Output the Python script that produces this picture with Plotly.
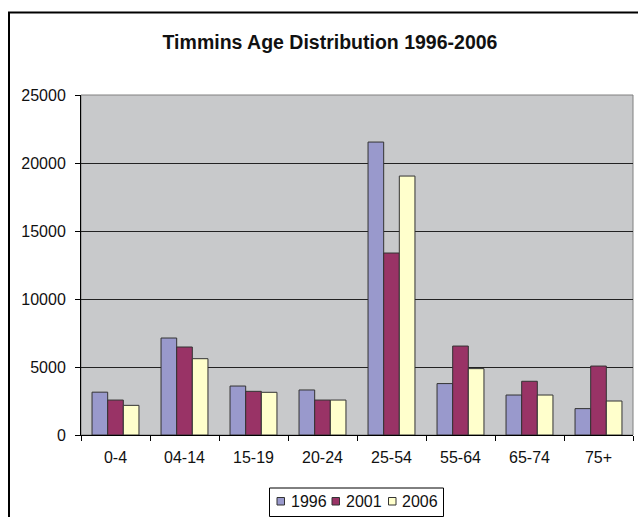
import plotly.graph_objects as go

age_groups = ["0-4", "04-14", "15-19", "20-24", "25-54", "55-64", "65-74", "75+"]
pop_1996 = [3150, 7130, 3600, 3310, 21540, 3780, 2940, 1940]
pop_2001 = [2570, 6470, 3210, 2570, 13380, 6540, 3950, 5070]
pop_2006 = [2180, 5610, 3140, 2570, 19040, 4880, 2940, 2500]

years = ["1996", "2001", "2006"]
colors = ["#9999cc", "#993366", "#ffffcc"]
values = [pop_1996, pop_2001, pop_2006]

FONT = "Liberation Sans, Arial, sans-serif"
W, H = 638, 517
ML, MR, MT, MB = 81, 5, 95, 82
PW, PH = W - ML - MR, H - MT - MB


def px_x(x):
    return (x - ML) / PW


def px_y(y):
    return (H - MB - y) / PH


fig = go.Figure()
for name, vals, color in zip(years, values, colors):
    fig.add_trace(go.Bar(
        name=name, x=age_groups, y=vals,
        marker=dict(color=color, line=dict(color="#333333", width=1)),
        showlegend=False,
    ))

fig.update_layout(
    width=W, height=H,
    margin=dict(l=ML, r=MR, t=MT, b=MB),
    paper_bgcolor="white",
    plot_bgcolor="#c8c9cb",
    barmode="group",
    bargap=0.32,
    bargroupgap=0,
    font=dict(family=FONT, size=16, color="black"),
    title=dict(
        text="<b>Timmins Age Distribution 1996-2006</b>",
        x=330 / W, xanchor="center", xref="container",
        y=1 - 42 / H, yanchor="middle",
        font=dict(family=FONT, size=19.5, color="#111111"),
    ),
    xaxis=dict(
        showline=True, linecolor="black", linewidth=1,
        ticks="outside", tickson="boundaries", ticklen=5, tickcolor="black",
        showgrid=False,
        ticklabelstandoff=8,
        tickfont=dict(family=FONT, size=16, color="#111111"),
    ),
    yaxis=dict(
        range=[0, 25000], dtick=5000,
        showline=True, linecolor="black", linewidth=1,
        ticks="outside", ticklen=5, tickcolor="black",
        showgrid=True, gridcolor="#222222", gridwidth=1,
        zeroline=False,
        tickformat="d",
        ticklabelstandoff=6,
        tickfont=dict(family=FONT, size=16, color="#111111"),
    ),
)

# plot-area border
fig.add_shape(type="rect", xref="paper", yref="paper", x0=0, x1=1, y0=0, y1=1,
              line=dict(color="#808080", width=1), layer="below")

# outer chart frame (runs off the right and bottom edges)
fig.add_shape(type="rect", xref="paper", yref="paper",
              x0=px_x(9), x1=px_x(660), y0=px_y(540), y1=px_y(12.5),
              line=dict(color="black", width=2))

# legend box with swatches
fig.add_shape(type="rect", xref="paper", yref="paper",
              x0=px_x(269.5), x1=px_x(443.5), y0=px_y(516.5), y1=px_y(488),
              line=dict(color="black", width=1), fillcolor="white")
swatch_x = [277, 332, 388.5]
label_x = [288.5, 343.5, 400]
for name, color, sx, lx in zip(years, colors, swatch_x, label_x):
    fig.add_shape(type="rect", xref="paper", yref="paper",
                  x0=px_x(sx), x1=px_x(sx + 7.5), y0=px_y(505), y1=px_y(497.5),
                  line=dict(color="#333333", width=1), fillcolor=color)
    fig.add_annotation(xref="paper", yref="paper", x=px_x(lx), y=px_y(501.5),
                       text=name, showarrow=False, xanchor="left", yanchor="middle",
                       font=dict(family=FONT, size=16, color="#111111"))

fig.write_html("out.html")
